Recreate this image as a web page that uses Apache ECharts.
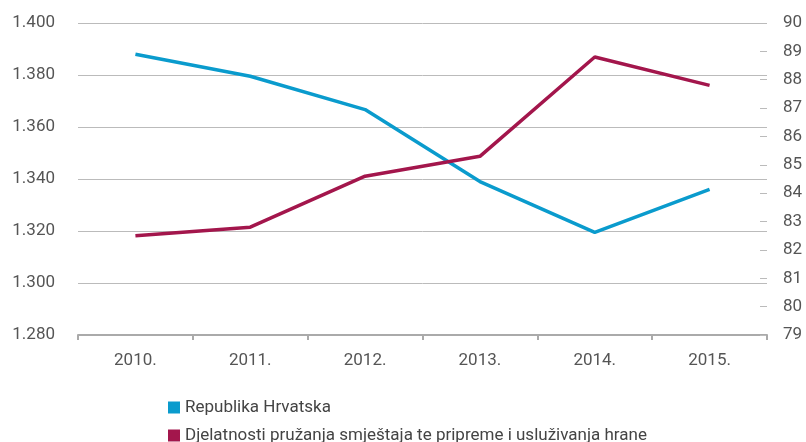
<!DOCTYPE html>
<html>
<head>
<meta charset="utf-8">
<script src="https://cdn.jsdelivr.net/npm/echarts@6/dist/echarts.min.js"></script>
<style>
  html, body { margin: 0; padding: 0; background: #fff; }
  #chart { width: 806px; height: 442px; }
</style>
</head>
<body>
<div id="chart"></div>
<script>
// godine
const years = ["2010.", "2011.", "2012.", "2013.", "2014.", "2015."];
// lijeva os (tisuće)
const hrvatska = [1.388, 1.3795, 1.3667, 1.339, 1.3195, 1.336];
// desna os
const djelatnosti = [82.5, 82.8, 84.6, 85.3, 88.8, 87.8];
const seriesNames = [
  "Republika Hrvatska",
  "Djelatnosti pružanja smještaja te pripreme i usluživanja hrane",
];

const blue = "#0a9bcd";
const red = "#a3164c";
const labelColor = "#555";
const fontFamily = "Roboto";

const chart = echarts.init(document.getElementById("chart"), null, { renderer: "canvas" });

// legenda - svaka stavka u svom redu
function legendRow(name, top) {
  return {
    data: [name],
    orient: "vertical",
    left: 163,
    top,
    icon: "rect",
    itemWidth: 12,
    itemHeight: 12,
    itemGap: 5,
    textStyle: { color: "#444", fontSize: 17, fontFamily },
  };
}

chart.setOption({
  animation: false,
  textStyle: { fontFamily },
  grid: { left: 78, right: 39, top: 23, bottom: 107, containLabel: false },
  legend: [legendRow(seriesNames[0], 394), legendRow(seriesNames[1], 422)],
  xAxis: {
    type: "category",
    data: years,
    boundaryGap: true,
    axisLine: { lineStyle: { color: "#aaa", width: 2 } },
    axisTick: { show: true, length: 5, lineStyle: { color: "#aaa", width: 2 } },
    axisLabel: { color: labelColor, fontSize: 17, margin: 17 },
    splitLine: { show: false },
  },
  yAxis: [
    {
      type: "value",
      min: 1.28,
      max: 1.4,
      interval: 0.02,
      axisLine: { show: false },
      axisTick: { show: false },
      axisLabel: {
        color: labelColor,
        fontSize: 17,
        margin: 23,
        formatter(value) {
          return value.toFixed(3);
        },
      },
      splitLine: { lineStyle: { color: "#bbb", width: 1 } },
    },
    {
      type: "value",
      position: "right",
      min: 79,
      max: 90,
      interval: 1,
      axisLine: { show: false },
      axisTick: { show: true, inside: true, length: 7, lineStyle: { color: "#bbb", width: 1 } },
      axisLabel: { color: labelColor, fontSize: 17, margin: 16 },
      splitLine: { show: false },
    },
  ],
  series: [
    {
      name: seriesNames[0],
      type: "line",
      yAxisIndex: 0,
      data: hrvatska,
      symbol: "none",
      itemStyle: { color: blue },
      lineStyle: { color: blue, width: 3.5 },
    },
    {
      name: seriesNames[1],
      type: "line",
      yAxisIndex: 1,
      data: djelatnosti,
      symbol: "none",
      itemStyle: { color: red },
      lineStyle: { color: red, width: 3.5 },
    },
  ],
});
</script>
</body>
</html>
